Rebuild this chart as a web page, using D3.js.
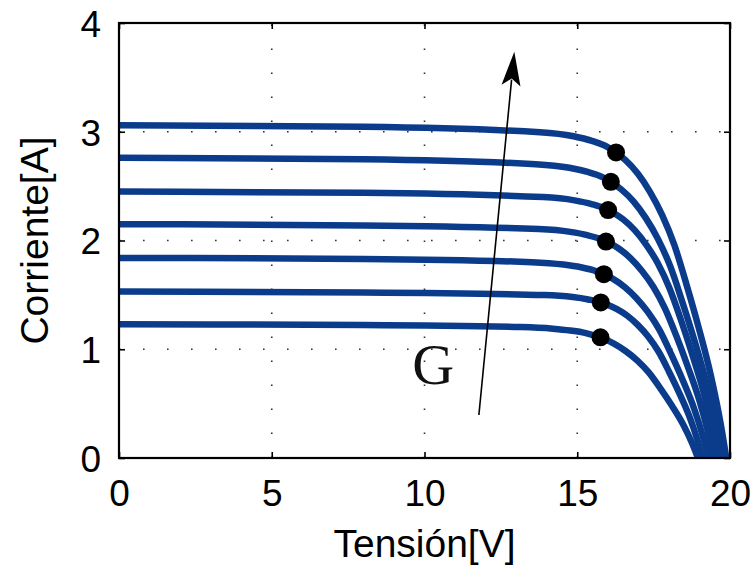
<!DOCTYPE html>
<html><head><meta charset="utf-8">
<script src="https://cdn.jsdelivr.net/npm/d3@7"></script>
<style>body{margin:0;background:#fff}</style>
</head><body><svg id="c" width="755" height="577"></svg>
<script>
// ---- data ----
const xTicks = [0, 5, 10, 15, 20];
const yTicks = [0, 1, 2, 3, 4];
const xLabel = "Tensión[V]";
const yLabel = "Corriente[A]";
const annotation = "G";

const curveG1 = [[0,3.06],[8,3.045],[13.78,2.996],[14.88,2.959],[15.48,2.916],[15.98,2.861],[16.27,2.809],[16.58,2.739],[16.98,2.616],[17.38,2.448],[17.78,2.234],[18.18,1.958],[18.58,1.591],[18.98,1.193],[19.38,0.750],[19.68,0.337],[19.88,0]];
const curveG2 = [[0,2.76],[8,2.746],[13.64,2.702],[14.74,2.669],[15.34,2.630],[15.84,2.581],[16.13,2.534],[16.44,2.470],[16.84,2.360],[17.24,2.208],[17.64,2.015],[18.04,1.766],[18.44,1.435],[18.84,1.076],[19.24,0.676],[19.54,0.304],[19.74,0]];
const curveG3 = [[0,2.45],[8,2.438],[13.88,2.399],[14.91,2.369],[15.47,2.335],[15.94,2.291],[16.22,2.249],[16.51,2.193],[16.88,2.095],[17.26,1.960],[17.64,1.789],[18.01,1.568],[18.39,1.274],[18.76,0.956],[19.14,0.600],[19.42,0.270],[19.61,0]];
const curveG4 = [[0,2.15],[8,2.139],[13.74,2.105],[14.77,2.079],[15.33,2.049],[15.80,2.010],[16.08,1.974],[16.37,1.924],[16.74,1.838],[17.12,1.720],[17.50,1.570],[17.87,1.376],[18.25,1.118],[18.62,0.839],[19.00,0.527],[19.28,0.237],[19.47,0]];
const curveG5 = [[0,1.84],[8,1.831],[13.51,1.801],[14.55,1.779],[15.12,1.754],[15.60,1.720],[15.87,1.689],[16.17,1.647],[16.55,1.573],[16.93,1.472],[17.31,1.343],[17.69,1.178],[18.07,0.957],[18.45,0.718],[18.83,0.451],[19.11,0.202],[19.30,0]];
const curveG6 = [[0,1.53],[8,1.522],[13.92,1.498],[14.85,1.480],[15.36,1.458],[15.79,1.431],[16.03,1.405],[16.30,1.369],[16.64,1.308],[16.98,1.224],[17.32,1.117],[17.66,0.979],[18.00,0.796],[18.34,0.597],[18.68,0.375],[18.93,0.168],[19.10,0]];
const curveG7 = [[0,1.23],[8,1.224],[13.16,1.204],[14.20,1.189],[14.77,1.172],[15.25,1.150],[15.52,1.129],[15.82,1.101],[16.20,1.052],[16.58,0.984],[16.96,0.898],[17.34,0.787],[17.72,0.640],[18.10,0.480],[18.48,0.301],[18.76,0.135],[18.95,0]];
const curves = [curveG1, curveG2, curveG3, curveG4, curveG5, curveG6, curveG7];

const mppV = [16.27, 16.10, 16.01, 15.94, 15.87, 15.77, 15.76];
const mppI = [2.81, 2.54, 2.28, 1.99, 1.69, 1.43, 1.11];

const arrowStart = [11.78, 0.395];
const arrowEnd = [12.94, 3.736];
const annotationAt = [9.6, 0.68];

// ---- drawing ----
const svg = d3.select("#c");
const x = d3.scaleLinear().domain([0, 20]).range([119, 730]);
const y = d3.scaleLinear().domain([0, 4]).range([458, 23]);
const blue = "#0b3c8c";

svg.append("defs").append("clipPath").attr("id", "clip")
  .append("rect").attr("x", x(0)).attr("y", y(4)).attr("width", x(20) - x(0)).attr("height", y(0) - y(4));

// grid
const grid = svg.append("g").attr("stroke", "#333").attr("stroke-width", 1.6)
  .attr("stroke-dasharray", "1.6,22.4").attr("fill", "none");
xTicks.slice(1, -1).forEach(t => grid.append("line")
  .attr("x1", x(t)).attr("x2", x(t)).attr("y1", y(0)).attr("y2", y(4)));
yTicks.slice(1, -1).forEach(t => grid.append("line")
  .attr("x1", x(0)).attr("x2", x(20)).attr("y1", y(t)).attr("y2", y(t)));

// axes
const fontSans = "Liberation Sans, Arial, sans-serif";
const ax = svg.append("g").attr("transform", `translate(0,${y(0)})`)
  .call(d3.axisBottom(x).tickValues(xTicks).tickSize(-6).tickPadding(22).tickFormat(d3.format("d")));
const ay = svg.append("g").attr("transform", `translate(${x(0)},0)`)
  .call(d3.axisLeft(y).tickValues(yTicks).tickSize(-6).tickPadding(18).tickFormat(d3.format("d")));
const axTop = svg.append("g").attr("transform", `translate(0,${y(4)})`)
  .call(d3.axisTop(x).tickValues(xTicks).tickSize(-6).tickFormat(""));
const ayR = svg.append("g").attr("transform", `translate(${x(20)},0)`)
  .call(d3.axisRight(y).tickValues(yTicks).tickSize(-6).tickFormat(""));
[ax, ay, axTop, ayR].forEach(g => {
  g.select(".domain").remove();
  g.selectAll(".tick line").attr("stroke", "#000").attr("stroke-width", 1.6);
  g.selectAll("text").attr("font-family", fontSans).attr("font-size", 37).attr("fill", "#000");
});
ay.selectAll("text").attr("dy", "0.36em");

// curves
const line = d3.line().x(d => x(d[0])).y(d => y(d[1])).curve(d3.curveMonotoneX);
svg.append("g").attr("clip-path", "url(#clip)")
  .selectAll("path").data(curves).join("path")
  .attr("d", line).attr("fill", "none").attr("stroke", blue)
  .attr("stroke-width", 6.5).attr("stroke-linejoin", "round");

// frame
svg.append("rect").attr("x", x(0)).attr("y", y(4)).attr("width", x(20) - x(0)).attr("height", y(0) - y(4))
  .attr("fill", "none").attr("stroke", "#000").attr("stroke-width", 2.2);

// MPP dots
svg.append("g").selectAll("circle").data(mppV).join("circle")
  .attr("cx", d => x(d)).attr("cy", (d, i) => y(mppI[i])).attr("r", 9).attr("fill", "#000");

// arrow
const ax1 = x(arrowStart[0]), ay1 = y(arrowStart[1]), ax2 = x(arrowEnd[0]), ay2 = y(arrowEnd[1]);
const ang = Math.atan2(ay2 - ay1, ax2 - ax1);
const headLen = 34, headHalf = 9.5;
const bx = ax2 - headLen * Math.cos(ang), by = ay2 - headLen * Math.sin(ang);
svg.append("line").attr("x1", ax1).attr("y1", ay1).attr("x2", bx + 6 * Math.cos(ang)).attr("y2", by + 6 * Math.sin(ang))
  .attr("stroke", "#000").attr("stroke-width", 1.6);
const nx = -Math.sin(ang), ny = Math.cos(ang);
const notch = 7;
svg.append("path").attr("d", `M${ax2},${ay2} L${bx + headHalf * nx},${by + headHalf * ny} L${bx + notch * Math.cos(ang)},${by + notch * Math.sin(ang)} L${bx - headHalf * nx},${by - headHalf * ny} Z`)
  .attr("fill", "#000");

// annotation
svg.append("text").attr("x", x(annotationAt[0])).attr("y", y(annotationAt[1]))
  .attr("font-family", "Liberation Serif, Times New Roman, serif").attr("font-size", 58)
  .attr("fill", "#111").text(annotation);

// axis labels
svg.append("text").attr("x", (x(0) + x(20)) / 2).attr("y", 557).attr("text-anchor", "middle")
  .attr("font-family", fontSans).attr("font-size", 39).attr("fill", "#000").text(xLabel);
svg.append("text").attr("transform", `translate(48,${(y(0) + y(4)) / 2}) rotate(-90)`).attr("text-anchor", "middle")
  .attr("font-family", fontSans).attr("font-size", 39).attr("fill", "#000").text(yLabel);
</script></body></html>
